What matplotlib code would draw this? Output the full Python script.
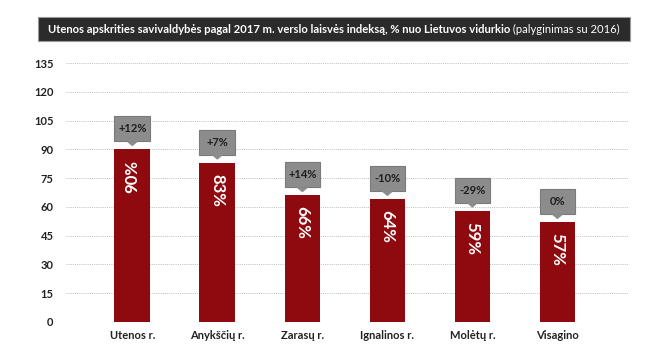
#------------------------------------------------------------------------------------------------------------------
#   Utenos county business freedom index chart
#------------------------------------------------------------------------------------------------------------------

import matplotlib
matplotlib.use('Agg')
import matplotlib.pyplot as plt
from matplotlib.patches import Rectangle, Polygon

#------------------------------------------------------------------------------------------------------------------
#   Data
#------------------------------------------------------------------------------------------------------------------
categories = ['Utenos r.', 'Anykščių r.', 'Zarasų r.', 'Ignalinos r.', 'Molėtų r.', 'Visagino']
values = [90, 83, 66, 64, 58, 52]
value_labels = ['90%', '83%', '66%', '64%', '59%', '57%']
change_labels = ['+12%', '+7%', '+14%', '-10%', '-29%', '0%']
yticks = [0, 15, 30, 45, 60, 75, 90, 105, 120, 135]

title_bold = 'Utenos apskrities savivaldybės pagal 2017 m. verslo laisvės indeksą, % nuo Lietuvos vidurkio'
title_rest = ' (palyginimas su 2016)'

#------------------------------------------------------------------------------------------------------------------
#   Figure
#------------------------------------------------------------------------------------------------------------------
bar_color = '#8e0a0f'
box_color = '#8c8c8c'
font = ['Lato', 'DejaVu Sans']
plt.rcParams['font.family'] = font

W, H = 670, 360
fig = plt.figure(figsize=(W/100, H/100), dpi=100)
ax_l, ax_r, ax_b, ax_t = 66, 628, 322, 63
ax = fig.add_axes([ax_l/W, 1-ax_b/H, (ax_r-ax_l)/W, (ax_b-ax_t)/H])

x = list(range(len(categories)))
bw = 0.42
ax.bar(x, values, width=bw, color=bar_color, zorder=3)
ax.set_xlim(-0.78, len(categories) - 1 + 0.83)
ax.set_ylim(0, 135)
ax.set_yticks(yticks)
ax.set_xticks(x)
ax.set_xticklabels(categories, fontsize=8, fontweight='bold', color='#222222')
ax.tick_params(axis='y', labelsize=8, length=0, pad=9, labelcolor='#222222')
ax.tick_params(axis='x', length=0, pad=6)
for lab in ax.get_yticklabels():
    lab.set_fontweight('bold')
ax.grid(axis='y', linestyle=(0, (1, 1.2)), color='#bcbcbc', linewidth=0.7, zorder=0)
for s in ax.spines.values():
    s.set_visible(False)

# pixels per data unit
ppu = (ax_b - ax_t) / 135.0
gap = 8 / ppu
box_h = 25 / ppu
tri = 5 / ppu

for i, v in enumerate(values):
    y0 = v + gap
    ax.add_patch(Rectangle((i - bw/2, y0), bw, box_h, facecolor=box_color,
                           edgecolor='#7a7a7a', linewidth=0.8, zorder=4))
    ax.add_patch(Polygon([(i - 0.07, y0), (i + 0.07, y0), (i, y0 - tri)],
                         closed=True, facecolor=box_color, edgecolor='none', zorder=5))
    ax.text(i, y0 + box_h/2, change_labels[i], ha='center', va='center',
            fontsize=8, fontweight='bold', color='#1e1e1e', zorder=6)
    rot = 90 if i == 0 else 270
    ax.text(i, v - 11/ppu, value_labels[i], ha='center', va='top', rotation=rot,
            fontsize=12, fontweight='bold', color='white', zorder=6)

#------------------------------------------------------------------------------------------------------------------
#   Title bar
#------------------------------------------------------------------------------------------------------------------
fig.patches.append(Rectangle((38/W, 1-41/H), (630-38)/W, 24/H, transform=fig.transFigure,
                             facecolor='#2b2b2b', edgecolor='#9a9a9a', linewidth=0.8))
t1 = fig.text(0, 1-29.5/H, title_bold, fontsize=9.6, fontweight='bold', color='white', va='center',
              family=['Liberation Sans Narrow', 'Lato'])
t2 = fig.text(0, 1-29.5/H, title_rest, fontsize=9.6, color='white', va='center',
              family=['Liberation Sans Narrow', 'Lato'])
fig.canvas.draw()
r = fig.canvas.get_renderer()
w1 = t1.get_window_extent(r).width
w2 = t2.get_window_extent(r).width
# fit the title inside the bar
k = 574 / (w1 + w2)
t1.set_fontsize(9.6 * k)
t2.set_fontsize(9.6 * k)
fig.canvas.draw()
w1 = t1.get_window_extent(r).width
w2 = t2.get_window_extent(r).width
start = (334 - (w1 + w2)/2)
t1.set_x(start/W)
t2.set_x((start + w1)/W)

fig.savefig('out.png', dpi=100, facecolor='white')

#------------------------------------------------------------------------------------------------------------------
#   End of file
#------------------------------------------------------------------------------------------------------------------
